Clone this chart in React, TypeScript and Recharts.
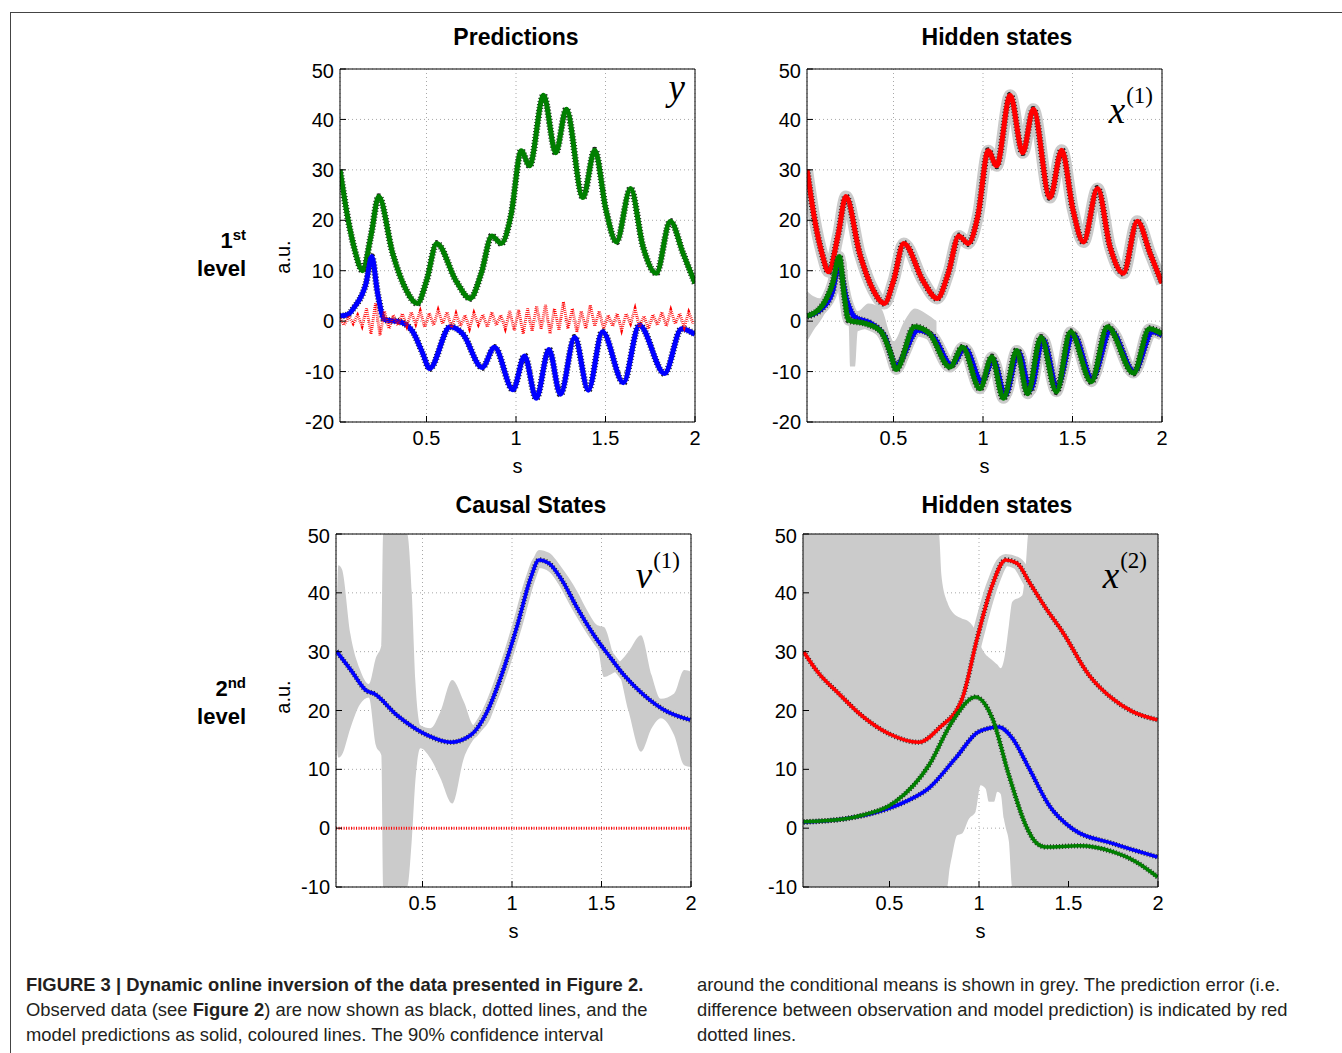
import React from "react";
import { ComposedChart, Line, Area, XAxis, YAxis, CartesianGrid } from "recharts";

type Pt = [number, number];
type Bd = [number, number, number];

// axes
const xTicks = [0.5, 1, 1.5, 2];
const xDomain = [1 / 60, 2];
const yTicksTop = [-20, -10, 0, 10, 20, 30, 40, 50];
const yTicksBottom = [-10, 0, 10, 20, 30, 40, 50];

// 1st level: predictions y
const predGreen: Pt[] = [
  [0.017, 30], [0.06, 20.5], [0.1, 14], [0.143, 10], [0.19, 17], [0.233, 24.7], [0.311, 13.4],
  [0.386, 6.2], [0.449, 3.5], [0.5, 8], [0.557, 15.4], [0.665, 8], [0.744, 4.5], [0.806, 9.5],
  [0.865, 16.9], [0.917, 15.4], [0.972, 21], [1.029, 33.8], [1.076, 30.8], [1.154, 44.8],
  [1.222, 33.4], [1.281, 42], [1.374, 24.5], [1.44, 33.9], [1.503, 22], [1.561, 15.7],
  [1.64, 26.3], [1.71, 14.7], [1.784, 9.5], [1.862, 19.8], [1.934, 13.4], [2.0, 7.5],
];
const predBlue: Pt[] = [
  [0.017, 1], [0.06, 1.3], [0.097, 2.8], [0.162, 7.5], [0.194, 12.8], [0.227, 5.5], [0.265, 0.3],
  [0.349, -0.1], [0.423, -2.1], [0.479, -6.4], [0.517, -9.4], [0.632, -1.1], [0.702, -2.5],
  [0.811, -9.2], [0.88, -5.2], [0.983, -13.6], [1.048, -6.9], [1.113, -15.3], [1.184, -5.6],
  [1.248, -14.5], [1.328, -3.2], [1.404, -13.7], [1.483, -2.1], [1.6, -12.2], [1.689, -0.8],
  [1.83, -10.4], [1.925, -1.5], [2.0, -2.6],
];
const predError: Pt[] = [
  [0.017, 0.5], [0.04, -0.8], [0.065, 1], [0.09, -0.5], [0.115, 1.2], [0.14, -1], [0.165, 2.5],
  [0.19, -2.5], [0.215, 3.5], [0.24, -2.8], [0.265, 2], [0.29, -1.5], [0.315, 1.2], [0.34, -0.8],
  [0.365, 1.5], [0.39, -1], [0.415, 1.8], [0.44, -0.6], [0.465, 2], [0.49, -1.2], [0.515, 1.6],
  [0.54, -0.8], [0.565, 2.2], [0.59, -0.5], [0.615, 1.8], [0.64, -1.3], [0.665, 1.5], [0.69, -1],
  [0.715, 1.2], [0.74, -1.5], [0.765, 1.6], [0.79, -0.7], [0.815, 1.3], [0.84, -1.2], [0.865, 1.8],
  [0.89, -0.8], [0.915, 1.2], [0.94, -1.5], [0.965, 2], [0.99, -1.8], [1.015, 2.2], [1.04, -2.5],
  [1.065, 2.5], [1.09, -2], [1.115, 3], [1.14, -1.5], [1.165, 3.2], [1.19, -2.5], [1.215, 2.5],
  [1.24, -1.8], [1.265, 3.8], [1.29, -1.5], [1.315, 2.5], [1.34, -2.2], [1.365, 2], [1.39, -1.5],
  [1.415, 3.2], [1.44, -1], [1.465, 2], [1.49, -1.5], [1.515, 1.2], [1.54, -1], [1.565, 1.5],
  [1.59, -1.8], [1.615, 1.5], [1.64, -0.5], [1.665, 2.5], [1.69, -1.2], [1.715, 1], [1.74, -1.5],
  [1.765, 1.3], [1.79, -0.8], [1.815, 1.8], [1.84, -1], [1.865, 2.2], [1.89, -0.5], [1.915, 1.5],
  [1.94, -1.2], [1.965, 1.8], [1.99, -0.5],
];

// 1st level: hidden states x(1)
const hidRed: Pt[] = [
  [0.017, 30], [0.06, 20], [0.1, 13.5], [0.137, 9.8], [0.19, 17], [0.234, 24.7], [0.311, 13.4],
  [0.386, 6.2], [0.449, 3.5], [0.5, 8], [0.557, 15.4], [0.665, 8], [0.744, 4.5], [0.806, 9.5],
  [0.865, 16.9], [0.917, 15.4], [0.972, 21], [1.029, 33.8], [1.076, 30.8], [1.152, 44.8],
  [1.222, 33.4], [1.281, 42], [1.374, 24.5], [1.44, 33.9], [1.503, 22], [1.561, 15.7],
  [1.64, 26.3], [1.71, 14.7], [1.784, 9.5], [1.862, 19.8], [1.934, 13.4], [2.0, 7.5],
];
const hidBlue: Pt[] = [
  [0.017, 1], [0.1, 2.5], [0.16, 6], [0.193, 10.8], [0.24, 4], [0.281, 0.9], [0.375, -0.5],
  [0.45, -3], [0.515, -8.7], [0.637, -1.8], [0.72, -3], [0.824, -8.7], [0.899, -5.4],
  [0.993, -12], [1.058, -7.7], [1.124, -14.7], [1.198, -6.1], [1.264, -13.7], [1.335, -3.6],
  [1.414, -13], [1.504, -2.6], [1.61, -11.4], [1.713, -1.8], [1.844, -10], [1.947, -2.1], [2.0, -2.8],
];
const hidGreen: Pt[] = [
  [0.017, 1], [0.1, 3], [0.16, 7.5], [0.197, 12.8], [0.225, 5], [0.249, 0.2], [0.346, -0.5],
  [0.431, -2.1], [0.48, -6], [0.515, -9.6], [0.618, -1.1], [0.702, -2.5], [0.815, -9.1],
  [0.886, -5.2], [0.983, -13.4], [1.049, -7.1], [1.114, -15.3], [1.189, -5.8], [1.249, -14.4],
  [1.324, -3.2], [1.41, -14], [1.489, -2.1], [1.605, -12], [1.695, -1.1], [1.841, -10.3],
  [1.929, -1.5], [2.0, -2.5],
];
const hidBand: Bd[] = [
  [0.017, -4, 6], [0.05, -2, 5], [0.1, 0.5, 4.5], [0.15, 4, 9], [0.2, 8, 13], [0.235, 2, 12],
  [0.25, -1, 6], [0.258, -9, 3], [0.285, -9, 2], [0.3, -2, 2], [0.36, -1.5, 3.5], [0.43, -3, 2.5],
  [0.5, -9, -4], [0.56, -5, 0], [0.62, -3, 2.5], [0.68, -3.5, 1.5], [0.74, -5, 0],
];

// 2nd level: causal states v(1)
const causalBlue: Pt[] = [
  [0.019, 30.1], [0.097, 27], [0.19, 23.3], [0.227, 22.9], [0.357, 19.2], [0.526, 15.8],
  [0.656, 14.6], [0.768, 15.8], [0.861, 19.8], [0.955, 27.2], [1.03, 34.5], [1.104, 42.5],
  [1.151, 45.6], [1.207, 45], [1.272, 42.5], [1.365, 37.4], [1.458, 32.8], [1.552, 28.9],
  [1.626, 26], [1.738, 22.6], [1.85, 20.1], [1.995, 18.4],
];
const causalError: Pt[] = [[0.017, 0], [0.5, 0], [1, 0], [1.5, 0], [2, 0]];
const causalBand: Bd[] = [
  [0.019, 15, 35], [0.03, 12, 44.7], [0.05, 12.5, 44], [0.097, 17, 33], [0.15, 21, 27],
  [0.2, 22.2, 24.5], [0.24, 14, 29], [0.27, 12.4, 31.1], [0.28, -10, 50], [0.414, -10, 50],
  [0.44, -2, 40], [0.46, 8, 25], [0.488, 13.6, 17.5], [0.544, 11.9, 17], [0.6, 8.5, 19.8],
  [0.666, 4.2, 25.2], [0.731, 11.9, 21.5], [0.787, 15.2, 17.5], [0.88, 18.7, 21.5],
  [0.955, 25.7, 28.7], [1.03, 33, 36], [1.104, 41, 44.5], [1.151, 44.2, 47.3], [1.207, 43.6, 46.8],
  [1.272, 41, 44.5], [1.365, 36.2, 40.2], [1.42, 33.5, 37], [1.477, 31.1, 34.5], [1.514, 25.7, 34.2],
  [1.589, 26.6, 28.2], [1.65, 20, 30], [1.72, 13, 32.8], [1.78, 17, 26], [1.831, 18.7, 22],
  [1.906, 15.8, 22.9], [1.962, 10.7, 26.9], [2.0, 10.4, 26.6],
];

// 2nd level: hidden states x(2)
const x2Red: Pt[] = [
  [0.02, 30], [0.1, 26.5], [0.216, 22.9], [0.35, 19], [0.5, 16], [0.664, 14.6], [0.776, 17],
  [0.906, 22], [0.99, 32.3], [1.074, 41.3], [1.149, 45.6], [1.214, 45], [1.279, 41.9],
  [1.373, 37.4], [1.466, 33.4], [1.615, 26], [1.746, 22], [1.858, 19.8], [1.998, 18.4],
];
const x2Green: Pt[] = [
  [0.02, 1.1], [0.253, 1.6], [0.347, 2.2], [0.533, 4.5], [0.72, 10.7], [0.85, 18.1], [0.981, 22.3],
  [1.074, 18.7], [1.167, 9], [1.261, 0.5], [1.32, -2.5], [1.373, -3.2], [1.559, -3], [1.746, -4],
  [1.876, -5.7], [1.998, -8.3],
];
const x2Blue: Pt[] = [
  [0.02, 1], [0.25, 1.6], [0.44, 2.8], [0.589, 4.5], [0.72, 6.8], [0.869, 11.9], [0.999, 16.4],
  [1.111, 17.2], [1.186, 15.3], [1.279, 10.2], [1.391, 3.9], [1.522, -0.1], [1.746, -2.6],
  [1.998, -4.9],
];
const x2Band: Bd[] = [
  [0.017, -10, 50], [0.776, -10, 50], [0.79, -10, 43], [0.822, -10, 38.5], [0.835, -7, 37.5],
  [0.85, -4.6, 36.8], [0.878, -1.2, 36], [0.906, -0.9, 35.6], [0.944, 1.6, 35.1], [0.981, 2.8, 33.5],
  [1.009, 7.3, 31], [1.037, 6.7, 29.5], [1.055, 4.5, 29], [1.084, 4.5, 28.3], [1.102, 6.2, 27.8],
  [1.121, 5.8, 27.2], [1.139, 1.6, 28.5], [1.15, 0, 30.5], [1.167, -2.3, 34.5], [1.186, -10, 38.5],
  [1.242, -10, 39.6], [1.261, -10, 44.5], [1.276, -10, 50], [2.0, -10, 50],
];

const RED = "#ff0000";
const GREEN = "#007f00";
const BLUE = "#0000ff";
const GREY = "#cbcbcb";

const toLine = (pts: Pt[]) => pts.map(([t, v]) => ({ t, v }));
const toBand = (pts: Bd[]) => pts.map(([t, lo, hi]) => ({ t, range: [lo, hi] }));

const fontSans = "'Liberation Sans', Arial, Helvetica, sans-serif";

function band(pts: Bd[], key: string) {
  return (
    <Area
      key={key}
      data={toBand(pts)}
      dataKey="range"
      type="monotone"
      stroke="none"
      fill={GREY}
      fillOpacity={1}
      isAnimationActive={false}
      activeDot={false}
    />
  );
}

function curve(pts: Pt[], key: string, color: string, width: number, dash?: string, kind = "monotone") {
  return (
    <Line
      key={key}
      data={toLine(pts)}
      dataKey="v"
      type={kind as any}
      stroke={color}
      strokeWidth={width}
      strokeDasharray={dash}
      dot={false}
      activeDot={false}
      isAnimationActive={false}
    />
  );
}

// observed data (black dotted) under the prediction (solid colour)
function observed(pts: Pt[], key: string, color: string, thick: boolean) {
  return [
    curve(pts, key + "-obs", "#222", thick ? 6.8 : 5.2, "1 2"),
    curve(pts, key + "-fit", color, thick ? 5 : 3.5),
  ];
}

function Panel(props: {
  left: number;
  top: number;
  yDomain: number[];
  yTicks: number[];
  children: React.ReactNode;
}) {
  const plotW = 355;
  const plotH = 353;
  const axisStyle = { fill: "#000", fontSize: 20, fontFamily: fontSans };
  return (
    <div style={{ position: "absolute", left: props.left - 60, top: props.top - 10 }}>
      <ComposedChart
        width={plotW + 70}
        height={plotH + 65}
        margin={{ top: 9, right: 9, left: 0, bottom: 0 }}
      >
        <CartesianGrid stroke="#a8a8a8" strokeDasharray="1 3" />
        <XAxis
          dataKey="t"
          type="number"
          domain={xDomain}
          ticks={xTicks}
          allowDataOverflow
          height={55}
          tickSize={-6}
          tickMargin={15}
          stroke="#000"
          tick={axisStyle}
          label={{ value: "s", position: "insideBottom", offset: 4, ...axisStyle }}
        />
        <XAxis
          xAxisId="top"
          orientation="top"
          dataKey="t"
          type="number"
          domain={xDomain}
          ticks={xTicks}
          allowDataOverflow
          height={1}
          tickSize={-6}
          stroke="#000"
          tick={false}
        />
        <YAxis
          type="number"
          domain={props.yDomain}
          ticks={props.yTicks}
          allowDataOverflow
          width={60}
          tickSize={-6}
          tickMargin={12}
          stroke="#000"
          tick={axisStyle}
        />
        <YAxis
          yAxisId="right"
          orientation="right"
          type="number"
          domain={props.yDomain}
          ticks={props.yTicks}
          allowDataOverflow
          width={1}
          tickSize={-6}
          stroke="#000"
          tick={false}
        />
        {props.children}
      </ComposedChart>
    </div>
  );
}

const titleStyle: React.CSSProperties = {
  position: "absolute",
  width: 300,
  textAlign: "center",
  fontFamily: fontSans,
  fontWeight: "bold",
  fontSize: 23,
  lineHeight: "26px",
};

const mathStyle: React.CSSProperties = {
  position: "absolute",
  fontFamily: "'Liberation Serif', 'Times New Roman', serif",
  fontStyle: "italic",
  fontSize: 37,
  lineHeight: "36px",
  textAlign: "right",
  width: 100,
};

const supStyle: React.CSSProperties = { fontStyle: "normal", fontSize: 23, verticalAlign: 20, marginLeft: 1 };

function RowLabel({ top, n, sup }: { top: number; n: string; sup: string }) {
  return (
    <div
      style={{
        position: "absolute",
        left: 146,
        top,
        width: 100,
        textAlign: "right",
        fontFamily: fontSans,
        fontWeight: "bold",
        fontSize: 22,
        lineHeight: "28px",
      }}
    >
      {n}
      <span style={{ fontSize: 15, verticalAlign: 8 }}>{sup}</span>
      <br />
      level
    </div>
  );
}

function AuLabel({ top }: { top: number }) {
  return (
    <div
      style={{
        position: "absolute",
        left: 253,
        top: top - 12,
        width: 60,
        height: 24,
        textAlign: "center",
        fontFamily: fontSans,
        fontSize: 20,
        lineHeight: "24px",
        transform: "rotate(-90deg)",
      }}
    >
      a.u.
    </div>
  );
}

const captionStyle: React.CSSProperties = {
  position: "absolute",
  top: 972,
  fontFamily: fontSans,
  fontSize: 18.4,
  lineHeight: "25px",
  color: "#231f20",
  whiteSpace: "nowrap",
};

export default function App() {
  return (
    <div style={{ position: "absolute", left: 0, top: 0, width: 1342, height: 1053, background: "#fff", overflow: "hidden" }}>
      <div style={{ position: "absolute", left: 10, top: 12, width: 1332, height: 1041, borderLeft: "1px solid #444", borderTop: "1px solid #444" }} />

      <div style={{ ...titleStyle, left: 366, top: 24 }}>Predictions</div>
      <div style={{ ...titleStyle, left: 847, top: 24 }}>Hidden states</div>
      <div style={{ ...titleStyle, left: 381, top: 492 }}>Causal States</div>
      <div style={{ ...titleStyle, left: 847, top: 492 }}>Hidden states</div>

      <RowLabel top={221} n="1" sup="st" />
      <RowLabel top={669} n="2" sup="nd" />
      <AuLabel top={257} />
      <AuLabel top={697} />

      <Panel left={340} top={69} yDomain={[-20, 50]} yTicks={yTicksTop}>
        {observed(predGreen, "pg", GREEN, true)}
        {observed(predBlue, "pb", BLUE, true)}
        {curve(predError, "pe", RED, 3, "0.8 1.2", "linear")}
      </Panel>

      <Panel left={807} top={69} yDomain={[-20, 50]} yTicks={yTicksTop}>
        {band(hidBand, "hb")}
        {curve(hidRed, "hr-ci", GREY, 12)}
        {curve(hidBlue, "hbl-ci", GREY, 11)}
        {curve(hidGreen, "hg-ci", GREY, 11)}
        {observed(hidRed, "hr", RED, true)}
        {observed(hidBlue, "hbl", BLUE, true)}
        {observed(hidGreen, "hg", GREEN, true)}
      </Panel>

      <Panel left={336} top={534} yDomain={[-10, 50]} yTicks={yTicksBottom}>
        {band(causalBand, "cb")}
        {curve(causalBlue, "cb-ci", GREY, 10)}
        {observed(causalBlue, "cbl", BLUE, false)}
        {curve(causalError, "ce", RED, 3, "1 1.5", "linear")}
      </Panel>

      <Panel left={803} top={534} yDomain={[-10, 50]} yTicks={yTicksBottom}>
        {band(x2Band, "xb")}
        {curve(x2Red, "xr-ci", GREY, 12)}
        {observed(x2Red, "xr", RED, false)}
        {observed(x2Blue, "xbl", BLUE, false)}
        {observed(x2Green, "xg", GREEN, false)}
      </Panel>

      <div style={{ ...mathStyle, left: 585, top: 70 }}>y</div>
      <div style={{ ...mathStyle, left: 1053, top: 78 }}>
        x<span style={supStyle}>(1)</span>
      </div>
      <div style={{ ...mathStyle, left: 580, top: 543 }}>
        v<span style={supStyle}>(1)</span>
      </div>
      <div style={{ ...mathStyle, left: 1047, top: 543 }}>
        x<span style={supStyle}>(2)</span>
      </div>

      <div style={{ ...captionStyle, left: 26 }}>
        <b>FIGURE 3 | Dynamic online inversion of the data presented in Figure 2.</b>
        <br />
        Observed data (see <b>Figure 2</b>) are now shown as black, dotted lines, and the
        <br />
        model predictions as solid, coloured lines. The 90% confidence interval
      </div>
      <div style={{ ...captionStyle, left: 697 }}>
        around the conditional means is shown in grey. The prediction error (i.e.
        <br />
        difference between observation and model prediction) is indicated by red
        <br />
        dotted lines.
      </div>
    </div>
  );
}
